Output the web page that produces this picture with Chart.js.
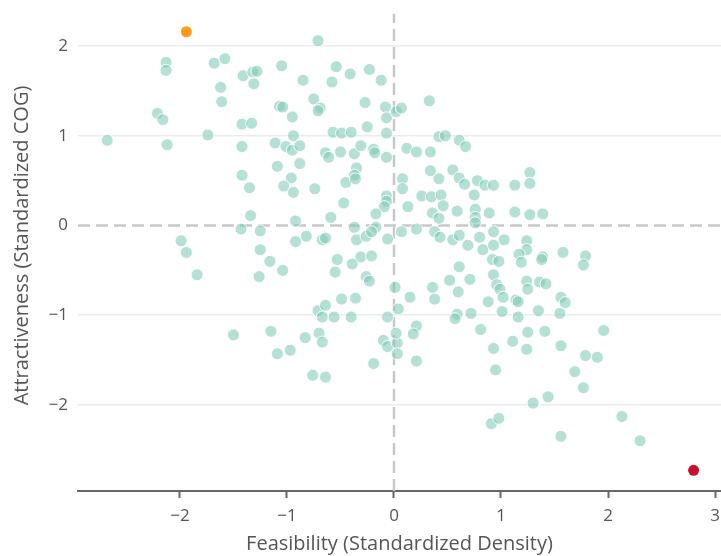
<!DOCTYPE html>
<html>
<head>
<meta charset="utf-8">
<script src="https://cdn.jsdelivr.net/npm/chart.js@4"></script>
<style>
html,body{margin:0;padding:0;background:#fff;}
#wrap{width:721px;height:556px;}
</style>
</head>
<body>
<div id="wrap"><canvas id="c" width="721" height="556"></canvas></div>
<script>
// Teal points: feasibility (x) and attractiveness (y)
const feasibility = [
-0.71,-2.13,-2.13,-1.68,-1.58,-1.41,-1.32,-1.28,-1.31,-1.05,-0.85,-0.54,-0.58,-0.41,-0.23,-0.12,-1.62,-1.61,
-0.75,-0.69,-0.71,-1.07,-1.04,-0.95,-0.27,-0.08,-0.07,0.02,0.07,0.33,-1.42,-1.33,-0.25,-0.57,-0.49,-0.40,-0.07,
0.42,0.48,0.61,0.67,0.12,0.21,0.34,-1.74,-2.68,-2.12,-2.21,-2.16,-1.42,-1.11,-0.94,-1.01,-0.95,-0.88,-0.64,-0.61,
-0.50,-0.37,-0.31,-0.19,-0.18,-0.07,-1.09,-0.88,
-1.42,-0.96,-1.03,-0.94,-1.35,-0.74,-0.35,-0.37,-0.45,-0.36,-0.07,-0.07,-0.09,-0.47,-1.34,-0.92,-0.59,-0.17,
-0.37,-0.17,-1.43,-1.25,-0.82,-0.92,-0.67,-0.64,-0.35,-0.26,-0.21,-0.06,-1.25,-1.16,-1.04,-1.26,-0.53,-0.31,
-0.21,-0.39,-0.55,-0.26,-0.23,0.01,-0.49,-0.36,-0.71,-0.64,-0.67,-0.56,-0.40,-0.06,0.04,-1.15,-1.99,-1.94,-1.84,
0.34,0.55,0.42,0.61,0.66,0.78,0.85,0.93,1.13,1.27,1.27,0.08,0.08,0.26,0.35,0.44,0.75,0.46,0.36,0.42,0.13,0.59,
0.76,0.76,0.76,0.89,1.13,1.27,1.39,0.07,0.21,0.38,0.43,0.55,0.61,0.69,0.80,0.93,1.03,0.83,0.93,0.92,0.98,1.24,
1.24,1.17,1.19,1.39,1.38,1.58,0.61,0.52,0.71,0.93,0.96,0.99,1.02,1.24,1.25,1.36,1.42,0.36,0.60,0.15,0.38,0.88,
1.14,1.16,1.56,1.60,0.59,0.57,0.72,1.01,1.16,1.35,1.55,0.21,0.81,
1.79,1.77,1.96,
-1.09,-0.97,-0.83,-0.70,-0.67,-0.76,-0.64,-0.19,-0.10,-0.06,0.03,0.03,0.02,
0.18,0.21,0.93,0.95,1.11,1.25,1.24,1.41,1.56,1.30,1.44,0.91,0.98,1.56,
1.79,1.90,1.69,1.77,2.13,2.30,-1.50
];
const attractiveness = [
2.06,1.82,1.73,1.81,1.86,1.67,1.71,1.72,1.58,1.78,1.62,1.77,1.60,1.69,1.74,1.62,1.54,1.38,
1.41,1.31,1.28,1.33,1.32,1.21,1.37,1.32,1.20,1.27,1.31,1.39,1.13,1.14,1.10,1.04,1.03,1.04,1.03,
0.99,1.00,0.95,0.88,0.86,0.82,0.82,1.01,0.95,0.90,1.25,1.18,0.88,0.92,1.00,0.88,0.84,0.89,0.81,0.76,
0.82,0.80,0.89,0.85,0.81,0.76,0.66,0.69,
0.56,0.53,0.44,0.37,0.42,0.41,0.64,0.56,0.48,0.52,0.33,0.27,0.21,0.25,0.11,0.05,0.09,0.13,
-0.02,-0.02,-0.04,-0.06,-0.12,-0.18,-0.16,-0.14,-0.16,-0.12,-0.07,-0.15,-0.27,-0.40,-0.50,-0.57,-0.38,-0.35,
-0.34,-0.43,-0.52,-0.57,-0.62,-0.69,-0.82,-0.81,-0.95,-0.89,-1.02,-1.02,-1.02,-1.02,-0.93,-1.18,-0.17,-0.30,-0.55,
0.61,0.62,0.52,0.53,0.46,0.50,0.45,0.45,0.45,0.59,0.47,0.52,0.41,0.33,0.32,0.34,0.34,0.22,0.14,0.08,0.21,0.16,
0.18,0.09,0.03,0.14,0.15,0.12,0.13,-0.07,-0.04,-0.07,-0.13,-0.16,-0.11,-0.22,-0.13,-0.07,-0.16,-0.27,-0.22,-0.38,-0.40,-0.17,
-0.27,-0.32,-0.41,-0.35,-0.38,-0.30,-0.46,-0.61,-0.60,-0.55,-0.66,-0.71,-0.80,-0.62,-0.71,-0.63,-0.65,-0.69,-0.74,-0.80,-0.82,-0.85,
-0.83,-0.85,-0.80,-0.86,-0.99,-1.04,-0.98,-0.96,-1.02,-0.95,-0.98,-1.12,-1.16,
-0.34,-0.44,-1.17,
-1.43,-1.39,-1.25,-1.20,-1.30,-1.67,-1.69,-1.54,-1.28,-1.35,-1.31,-1.43,-1.20,
-1.21,-1.51,-1.37,-1.61,-1.29,-1.19,-1.38,-1.18,-1.34,-1.98,-1.91,-2.21,-2.15,-2.35,
-1.45,-1.47,-1.63,-1.81,-2.13,-2.40,-1.22
];
// Highlighted points
const highlightOrange = [-1.94, 2.16];
const highlightRed = [2.80, -2.73];

const xTicks = [-2, -1, 0, 1, 2, 3];
const xTickLabels = ["\u22122", "\u22121", "0", "1", "2", "3"];
const yTicks = [-2, -1, 0, 1, 2];
const yTickLabels = ["\u22122", "\u22121", "0", "1", "2"];
const xRange = [-2.953, 3.056];
const yRange = [-2.96, 2.514];
const vLineTop = 2.36;

const xTitle = "Feasibility (Standardized Density)";
const yTitle = "Attractiveness (Standardized COG)";

const tealPts = feasibility.map((x, i) => ({x: x, y: attractiveness[i]}));
const FONT = "'Open Sans', 'Noto Sans', sans-serif";
const TXT = '#555';

new Chart(document.getElementById('c'), {
  type: 'scatter',
  data: {
    datasets: [
      {
        label: 'vline', showLine: true, order: 10,
        data: [{x: 0, y: yRange[0]}, {x: 0, y: vLineTop}],
        borderColor: '#c8c8c8', borderWidth: 2.5, borderDash: [12, 6], pointRadius: 0
      },
      {
        label: 'hline', showLine: true, order: 10,
        data: [{x: xRange[0], y: 0}, {x: xRange[1], y: 0}],
        borderColor: '#c8c8c8', borderWidth: 2.5, borderDash: [12, 6], pointRadius: 0
      },
      {
        label: 'teal', order: 5, data: tealPts,
        backgroundColor: 'rgba(127,201,183,0.58)', borderColor: 'rgba(255,255,255,0.9)',
        borderWidth: 1, pointRadius: 6
      },
      {
        label: 'orange', order: 1, data: [{x: highlightOrange[0], y: highlightOrange[1]}],
        backgroundColor: '#ff9a1a', borderColor: '#ff9a1a', borderWidth: 0, pointRadius: 5.5
      },
      {
        label: 'red', order: 1, data: [{x: highlightRed[0], y: highlightRed[1]}],
        backgroundColor: '#c8102e', borderColor: '#c8102e', borderWidth: 0, pointRadius: 5.5
      }
    ]
  },
  options: {
    responsive: false,
    animation: false,
    devicePixelRatio: 1,
    layout: {autoPadding: false, padding: {left: 6, right: 0, top: 0, bottom: 0}},
    plugins: {legend: {display: false}, tooltip: {enabled: false}},
    scales: {
      x: {
        type: 'linear', min: xRange[0], max: xRange[1],
        afterBuildTicks: (axis) => { axis.ticks = xTicks.map(v => ({value: v})); },
        afterFit: (scale) => { scale.height = 65; scale.paddingLeft = 0; scale.paddingRight = 0; },
        ticks: {
          autoSkip: false, maxRotation: 0, padding: 8,
          font: {family: FONT, size: 17}, color: TXT,
          callback: (v) => { const i = xTicks.indexOf(v); return i >= 0 ? xTickLabels[i] : ''; }
        },
        grid: {drawOnChartArea: false, drawTicks: true, tickLength: 7, tickColor: '#666', tickWidth: 2, color: '#666'},
        border: {display: true, color: '#666', width: 2},
        title: {display: true, text: xTitle, font: {family: FONT, size: 20}, color: TXT, padding: {top: 0, bottom: 0}}
      },
      y: {
        type: 'linear', min: yRange[0], max: yRange[1],
        afterBuildTicks: (axis) => { axis.ticks = yTicks.map(v => ({value: v})); },
        afterFit: (scale) => { scale.width = 72; scale.paddingTop = 0; scale.paddingBottom = 0; },
        ticks: {
          autoSkip: false, padding: 10,
          font: {family: FONT, size: 17}, color: TXT,
          callback: (v) => { const i = yTicks.indexOf(v); return i >= 0 ? yTickLabels[i] : ''; }
        },
        grid: {drawTicks: false, lineWidth: 1.5, color: (ctx) => (ctx.tick && ctx.tick.value === 0) ? 'rgba(0,0,0,0)' : '#ebebeb'},
        border: {display: false},
        title: {display: true, text: yTitle, font: {family: FONT, size: 20}, color: TXT, padding: {top: 4, bottom: 0}}
      }
    }
  }
});
</script>
</body>
</html>
